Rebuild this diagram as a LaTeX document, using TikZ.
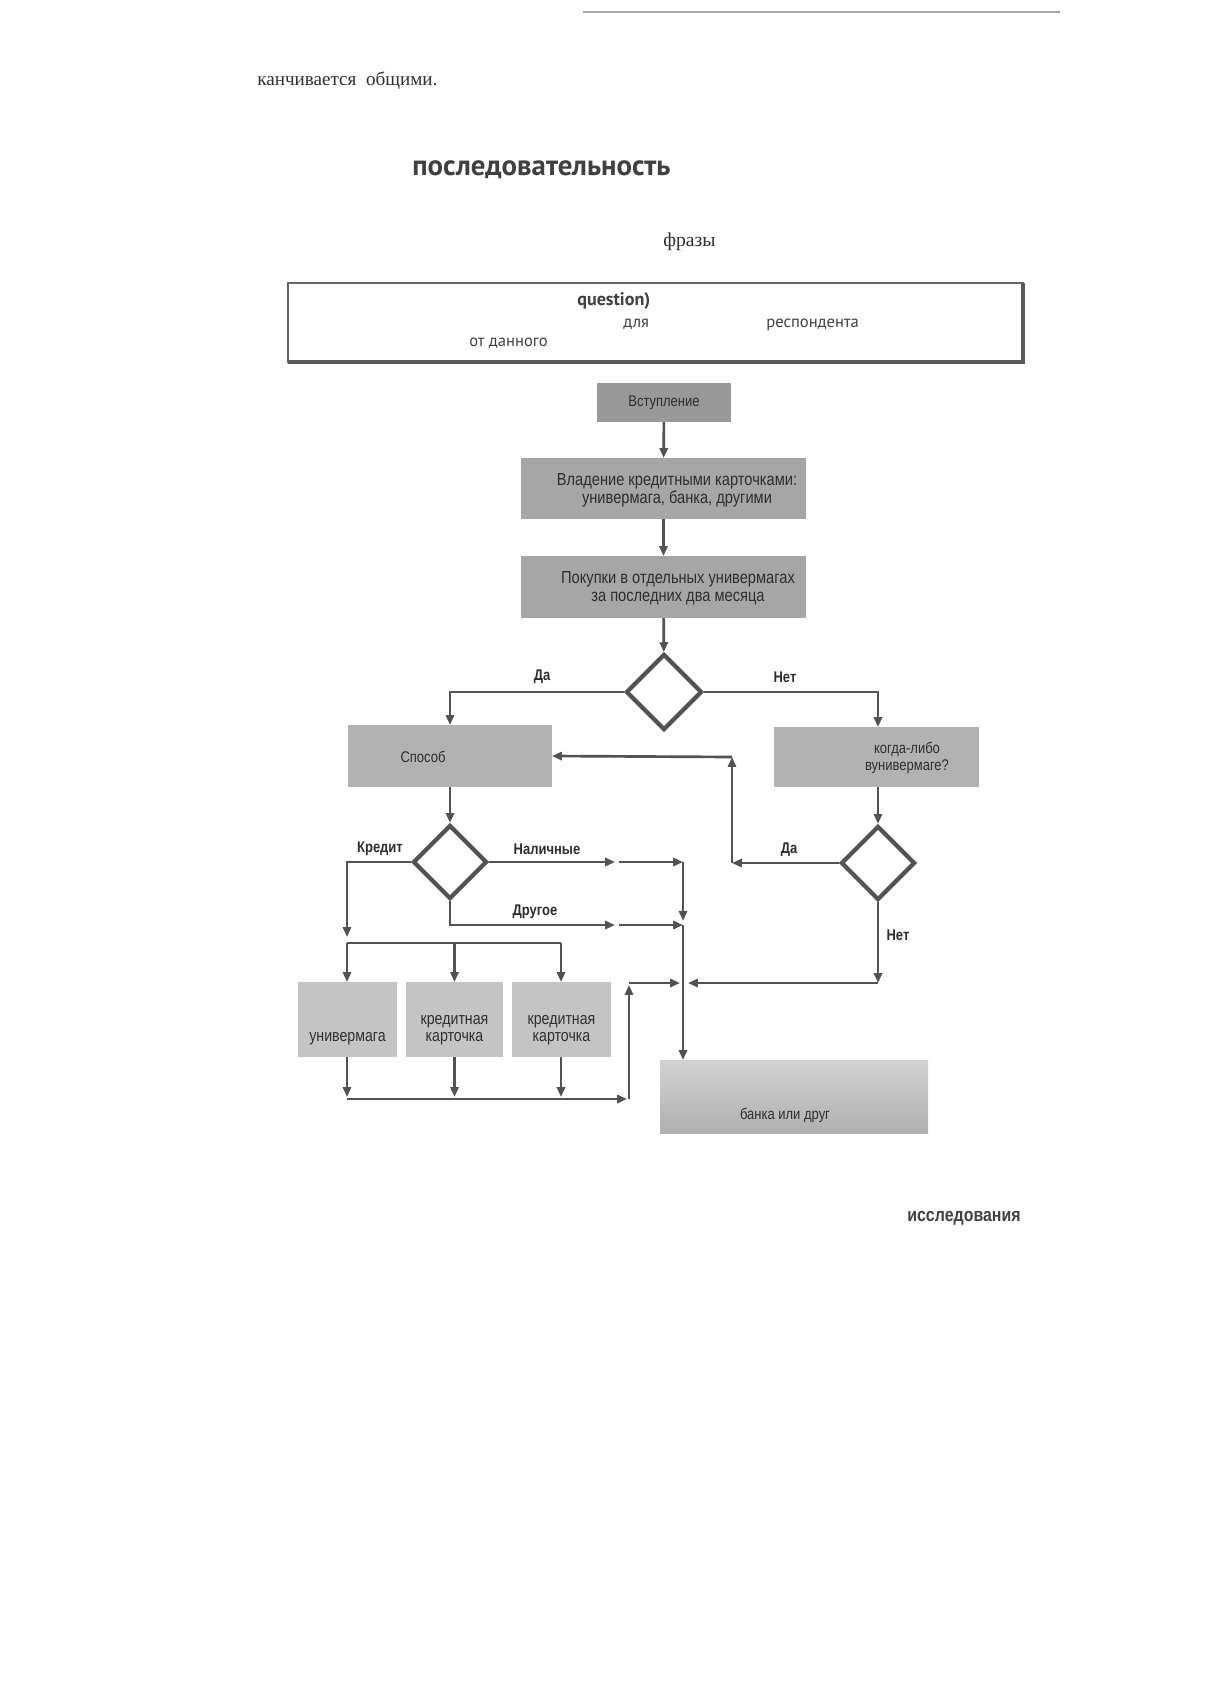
\documentclass[tikz,border=0pt]{standalone}
\usepackage{fontspec}
\setmainfont{Liberation Serif}
\newfontfamily\boxfont{PT Sans}
\newfontfamily\flowfont[FakeStretch=0.84]{Liberation Sans}
\usepackage{tikz}
\usetikzlibrary{arrows.meta}
\usetikzlibrary{positioning}
\usetikzlibrary{shapes.geometric}
\usetikzlibrary{calc}
\tikzset{>={Triangle[length=7pt,width=5.8pt]}}
\definecolor{linegray}{gray}{0.32}
\definecolor{inkgray}{gray}{0.18}
\definecolor{fillA}{gray}{0.60}
\definecolor{fillB}{gray}{0.65}
\definecolor{fillC}{gray}{0.70}
\definecolor{fillD}{gray}{0.77}
\tikzset{
    block/.style={inner sep=0pt, outer sep=0pt, fill=fillB, text=inkgray, align=center,
        font=\flowfont\fontsize{11pt}{11.6pt}\selectfont},
    blocktext/.style={inner sep=0pt, text=inkgray, align=center,
        font=\flowfont\fontsize{11pt}{11.6pt}\selectfont},
    widetext/.style={blocktext, font=\flowfont\fontsize{12.4pt}{12.8pt}\selectfont},
    smalltext/.style={inner sep=0pt, text=inkgray, align=center,
        font=\flowfont\fontsize{12pt}{12.2pt}\selectfont},
    choice/.style={diamond, draw=linegray, line width=3pt, inner sep=0pt, aspect=1},
    flow/.style={draw=linegray, line width=1.9pt},
    lbl/.style={inner sep=0pt, text=inkgray, font=\flowfont\bfseries\fontsize{11pt}{12pt}\selectfont},
}
\begin{document}
\begin{tikzpicture}[x=0.25mm,y=-0.25mm]
	\useasboundingbox (0,0) rectangle (1224,1706);
	% page head
	\draw[gray!70, line width=1pt] (583,12) -- (1060,12);
	\node[anchor=base west, inner sep=0pt, text=inkgray, font=\fontsize{13.6pt}{15pt}\selectfont] (lead) at (257,85) {канчивается\ \ общими.};
	\node[anchor=base west, inner sep=0pt, text=black!75, font=\boxfont\bfseries\fontsize{20.5pt}{22pt}\selectfont] (title) at (412,175) {последовательность};
	\node[anchor=base west, inner sep=0pt, text=inkgray, font=\fontsize{14pt}{15pt}\selectfont] (phrase) at (663,246) {фразы};
	% framed note
	\draw[black!60, line width=0.9pt] (288,283) rectangle (1023,362);
	\draw[black!65, line width=2.2pt] (288,362) -- (1023,362) -- (1023,283);
	\node[anchor=base west, inner sep=0pt, text=black!75, font=\boxfont\bfseries\fontsize{12.9pt}{14pt}\selectfont] (quest) at (577,305) {question)};
	\node[anchor=base west, inner sep=0pt, text=black!75, font=\boxfont\fontsize{11.8pt}{13pt}\selectfont] (dlya) at (623,327) {для};
	\node[anchor=base west, inner sep=0pt, text=black!75, font=\boxfont\fontsize{11.8pt}{13pt}\selectfont] (resp) at (766,327) {респондента};
	\node[anchor=base west, inner sep=0pt, text=black!75, font=\boxfont\fontsize{11.8pt}{13pt}\selectfont] (given) at (469,346) {от данного};
	% flow chart
	\node[block, fill=fillA, minimum width=33.5mm, minimum height=9.75mm] (intro) at (664,402.5) {Вступление};
	\node[block, minimum width=71.25mm, minimum height=15.25mm] (own) at (663.5,488.5) {};
	\node[widetext] (owntext) at (677,490) {Владение кредитными карточками:\\универмага, банка, другими};
	\node[block, minimum width=71.25mm, minimum height=15.5mm] (buy) at (663.5,587) {};
	\node[widetext] (buytext) at (678,588) {Покупки в отдельных универмагах\\за последних два месяца};
	\node[choice, minimum width=19mm, minimum height=19mm] (d1) at (664,692) {};
	\node[block, fill=fillC, minimum width=51mm, minimum height=15.5mm] (way) at (450,756) {};
	\node[blocktext] (waytext) at (423,757) {Способ};
	\node[block, fill=fillC, minimum width=51.25mm, minimum height=15mm] (ever) at (876.5,757) {};
	\node[blocktext] (evertext) at (907,758) {когда-либо\\вунивермаге?};
	\node[choice, minimum width=18.5mm, minimum height=18.5mm] (d2) at (450,862) {};
	\node[choice, minimum width=18.5mm, minimum height=18.5mm] (d3) at (878,863) {};
	\node[block, fill=fillD, minimum width=24.75mm, minimum height=18.75mm] (b1) at (347.5,1019.5) {};
	\node[block, fill=fillD, minimum width=24.25mm, minimum height=18.75mm] (b2) at (454.5,1019.5) {};
	\node[block, fill=fillD, minimum width=24.75mm, minimum height=18.75mm] (b3) at (561.5,1019.5) {};
	\node[smalltext] (b1text) at (347.5,1039) {универмага};
	\node[smalltext] (b2text) at (454.5,1030.5) {кредитная\\карточка};
	\node[smalltext] (b3text) at (561.5,1030.5) {кредитная\\карточка};
	\node[block, top color=gray!35, bottom color=gray!62, minimum width=67mm, minimum height=18.25mm] (fin) at (794,1096.5) {};
	\node[blocktext] (fintext) at (785,1115) {банка или друг};
	% labels
	\node[lbl] (yes1) at (542,677) {Да};
	\node[lbl] (no1) at (785,677) {Нет};
	\node[lbl] (credit) at (380,849) {Кредит};
	\node[lbl] (cash) at (547,849) {Наличные};
	\node[lbl] (other) at (535,912) {Другое};
	\node[lbl] (yes2) at (789,850) {Да};
	\node[lbl] (no2) at (898,935) {Нет};
	% turning points
	\coordinate (backlow) at (732,863);
	\coordinate (backup) at (732,757);
	\coordinate (creddown) at (347,937);
	\coordinate (busL) at (347,943);
	\coordinate (busR) at (561,943);
	\coordinate (cashA) at (615,862);
	\coordinate (cashB) at (619,862);
	\coordinate (otherA) at (615,925);
	\coordinate (otherB) at (619,925);
	\coordinate (joinT) at (683,862);
	\coordinate (joinM) at (683,925);
	\coordinate (noturn) at (878,983);
	\coordinate (noend) at (688,983);
	\coordinate (lowL) at (347,1099);
	\coordinate (lowR) at (627,1099);
	\coordinate (upB) at (629,1099);
	\coordinate (upT) at (629,985);
	\coordinate (upE) at (680,983);
	% connectors
	\draw[flow,->] (intro) -- (own);
	\draw[flow,->] (own) -- (buy);
	\draw[flow,->] (buy) -- (d1);
	\draw[flow,->] (d1.west) -| (way.north);
	\draw[flow,->] (d1.east) -| (ever.north -| d3);
	\draw[flow,->] (ever.south -| d3) -- (d3.north);
	\draw[flow,->] (way.south) -- (d2.north);
	\draw[flow,->] (d3.west) -- (backlow);
	\draw[flow,->] (backlow) -- (backup);
	\draw[flow,->] (backup) -- (way.east);
	\draw[flow,->] (d2.west) -| (creddown);
	\draw[flow] (busL) -- (busR);
	\draw[flow,->] (busL) -- (b1.north -| busL);
	\draw[flow,->] (b2.north |- busL) -- (b2.north);
	\draw[flow,->] (busR) -- (b3.north -| busR);
	\draw[flow,->] (d2.east) -- (cashA);
	\draw[flow,->] (cashB) -- (joinT);
	\draw[flow,->] (d2.south) |- (otherA);
	\draw[flow,->] (otherB) -- (joinM);
	\draw[flow,->] (joinT) -- ([yshift=3pt]joinM);
	\draw[flow,->] (joinM) -- (fin.north -| joinM);
	\draw[flow,->] (d3.south) -- (noturn);
	\draw[flow,->] (noturn) -- (noend);
	\foreach \b/\x in {b1/347,b2/454.5,b3/561}
		\draw[flow,->] (\b.south -| {\x,0}) -- (\x,1097);
	\draw[flow,->] (lowL) -- (lowR);
	\draw[flow,->] (upB) -- (upT);
	\draw[flow,->] (upT |- upE) -- (upE);
	% page foot
	\node[inner sep=0pt, text=black!75, font=\flowfont\bfseries\fontsize{13.5pt}{15pt}\selectfont] (foot) at (964,1218) {исследования};
\end{tikzpicture}
\end{document}
